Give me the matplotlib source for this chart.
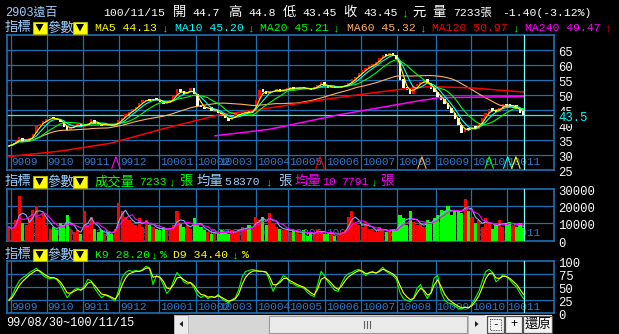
import numpy as np
import pandas as pd
import matplotlib
matplotlib.use("Agg")
import matplotlib.pyplot as plt
import matplotlib.transforms as mtransforms
from matplotlib.patches import Rectangle, Polygon

plt.rcParams['font.family'] = ['Liberation Mono', 'DejaVu Sans Mono', 'Noto Sans CJK TC']

W, H = 619, 334
GRID = '#1f6fb5'
DATEC = '#2f7ad0'
LBLUE = '#a0d0ff'

# ---- data (2-trading-day bins, 99/08/30 .. 100/11/15) ----
months = ['9909', '9910', '9911', '9912', '10001', '10002', '10003', '10004',
          '10005', '10006', '10007', '10008', '10009', '10010', '10011']
month_pos = [0.52, 11.0, 21.5, 32.2, 43.8, 54.5, 61.0, 72.0,
             81.5, 92.2, 102.6, 113.1, 124.4, 134.7, 145.1]

closes = [33.0, 33.8, 35.0, 36.0, 34.3, 34.8, 35.8, 37.0, 39.8, 40.5,
          41.2, 42.0, 42.5, 42.2, 41.8, 41.0, 39.5, 38.2, 39.5, 39.8,
          40.2, 39.6, 39.8, 40.8, 42.0, 40.5, 40.2, 39.8, 40.3, 40.0,
          39.8, 40.2, 41.8, 42.5, 43.6, 44.5, 45.2, 46.0, 47.5, 48.2,
          48.5, 48.0, 48.8, 48.5, 47.8, 47.0, 47.6, 48.2, 49.5, 52.0,
          51.0, 50.2, 51.0, 52.2, 50.5, 46.5, 46.0, 45.5, 45.8, 44.6,
          44.8, 44.0, 43.0, 42.2, 41.5, 42.8, 43.5, 43.6, 44.2, 44.5,
          44.0, 44.6, 48.5, 51.8, 51.0, 50.5, 51.2, 51.5, 52.0, 51.0,
          51.8, 52.2, 52.6, 52.0, 52.4, 52.5, 52.2, 52.0, 51.8, 52.6,
          53.5, 54.2, 53.0, 52.4, 52.8, 52.5, 52.6, 53.0, 53.2, 54.0,
          55.2, 56.0, 57.2, 58.2, 59.0, 59.6, 60.2, 61.0, 62.5, 63.5,
          63.0, 64.0, 63.0, 62.0, 55.0, 52.5, 51.8, 50.2, 53.0, 53.8,
          54.2, 55.0, 54.0, 52.0, 51.0, 49.5, 48.5, 47.0, 45.5, 44.0,
          42.0, 40.0, 37.5, 38.8, 38.5, 39.5, 38.8, 40.5, 42.5, 44.0,
          45.5, 44.8, 44.5, 45.8, 47.0, 46.8, 46.0, 46.5, 45.2, 44.0,
          43.45]

opens = [32.6, 33.1, 33.9, 35.2, 35.8, 34.2, 34.9, 35.9, 37.2, 39.6,
         40.3, 41.0, 42.2, 42.6, 42.3, 41.8, 40.8, 39.6, 38.4, 39.4,
         39.8, 40.3, 39.5, 39.9, 40.7, 41.8, 40.6, 40.3, 39.8, 40.4,
         40.1, 39.7, 40.3, 41.6, 42.6, 43.5, 44.4, 45.3, 45.9, 47.4,
         48.0, 48.6, 48.0, 48.9, 48.4, 47.9, 47.0, 47.5, 48.2, 49.6,
         52.1, 51.2, 50.3, 51.0, 52.3, 50.2, 46.6, 46.0, 45.4, 45.9,
         44.5, 44.9, 44.0, 43.1, 42.3, 41.6, 42.7, 43.4, 43.6, 44.1,
         44.6, 44.0, 44.8, 48.6, 51.9, 51.2, 50.4, 51.0, 51.4, 52.1,
         51.0, 51.7, 52.1, 52.7, 52.0, 52.3, 52.6, 52.3, 52.1, 51.7,
         52.5, 53.4, 54.3, 53.1, 52.3, 52.9, 52.4, 52.5, 53.0, 53.1,
         53.9, 55.1, 55.9, 57.1, 58.1, 59.1, 59.5, 60.1, 60.9, 62.4,
         63.6, 62.9, 64.1, 63.2, 61.5, 55.2, 52.6, 51.9, 50.4, 52.9,
         53.7, 54.1, 55.2, 54.1, 52.2, 51.1, 49.6, 48.6, 47.2, 45.6,
         44.1, 42.2, 40.1, 37.6, 38.9, 38.4, 39.6, 38.7, 40.4, 42.4,
         43.9, 45.6, 44.9, 44.4, 45.7, 47.1, 46.9, 45.9, 46.6, 45.3,
         44.7]

volume_k = [8, 6, 12, 26, 10, 9, 13, 18, 20, 14,
            16, 9, 7, 8, 6, 10, 9, 15, 7, 5,
            6, 4, 17, 9, 14, 7, 5, 6, 4, 5,
            4, 7, 22, 17, 14, 12, 10, 9, 13, 8,
            12, 9, 8, 7, 6, 8, 6, 7, 9, 17,
            10, 8, 9, 7, 13, 9, 8, 6, 5, 4,
            5, 4, 6, 5, 4, 6, 5, 7, 8, 6,
            9, 7, 14, 12, 14, 9, 16, 10, 8, 7,
            6, 7, 5, 6, 5, 4, 6, 3, 5, 4,
            7, 5, 4, 4, 5, 3, 4, 5, 6, 14,
            17, 10, 9, 8, 11, 7, 6, 5, 8, 6,
            5, 6, 7, 6, 15, 13, 9, 17, 11, 9,
            10, 8, 12, 11, 13, 15, 18, 17, 20, 15,
            18, 17, 16, 24, 17, 14, 10, 12, 8, 13,
            10, 7, 9, 12, 8, 10, 11, 9, 8, 10,
            7.2]

k9 = [25, 35, 50, 62, 68, 72, 78, 82, 86, 80,
      72, 68, 66, 68, 64, 55, 42, 30, 38, 45,
      48, 44, 52, 65, 62, 48, 38, 30, 35, 32,
      28, 24, 45, 68, 78, 82, 80, 82, 80, 84,
      90, 86, 55, 72, 68, 55, 38, 45, 62, 78,
      70, 60, 56, 58, 48, 35, 30, 34, 28, 32,
      30, 36, 28, 24, 20, 26, 30, 45, 70, 80,
      82, 84, 82, 80, 80, 78, 62, 42, 55, 62,
      72, 68, 58, 56, 52, 50, 48, 40, 35, 32,
      55, 80, 72, 60, 52, 44, 42, 58, 70, 76,
      78, 82, 84, 80, 72, 78, 80, 76, 82, 88,
      80, 76, 72, 64, 40, 28, 25, 22, 30, 48,
      55, 40, 28, 40, 68, 72, 40, 25, 20, 18,
      14, 10, 8, 12, 10, 18, 30, 42, 62, 80,
      84, 78, 60, 66, 74, 70, 64, 56, 50, 38,
      28]

ma120_pos = [0, 15, 29.5, 45.5, 61, 76.7, 90.7, 105.3, 114.9, 122.8, 134.4, 150]
ma120_val = [29.5, 31.3, 33.9, 38.9, 43.3, 45.8, 48.3, 50.6, 52.0, 52.8, 52.4, 51.0]
ma240_pos = [60.1, 76.1, 95.7, 120.7, 122.8, 125.0, 150]
ma240_val = [36.4, 38.6, 43.3, 48.3, 48.6, 49.1, 49.47]

signal_pos = [31.2, 90.7, 120.4, 140.0, 145.4, 147.8]
signal_col = ['#ff00ff', '#ff0000', '#ffb060', '#00ff00', '#00ffff', '#ffff00']

last_price = 43.45
cursor = 150.2

# ---- derived series ----
c = pd.Series(closes)
ma5 = c.rolling(3, min_periods=1).mean()
ma10 = c.rolling(5, min_periods=1).mean()
ma20 = c.rolling(10, min_periods=1).mean()
ma60 = c.rolling(30, min_periods=1).mean()
vol = pd.Series(volume_k) * 1000
vma5 = vol.rolling(3, min_periods=1).mean()
vma10 = vol.rolling(5, min_periods=1).mean()
d9 = [k9[0]]
for kv in k9[1:]:
    d9.append(0.45 * d9[-1] + 0.55 * kv)

x = np.arange(len(closes))
XL = (-0.64, 158.9)
LW = 0.8
FS = 8.2      # ascii text in headers
FC = 9.6      # cjk text

fig = plt.figure(figsize=(W / 100, H / 100), dpi=100, facecolor='black')


def rect(px0, py0, px1, py1):
    return [px0 / W, 1 - py1 / H, (px1 - px0) / W, (py1 - py0) / H]


def panel(r, ylim, hlines, labels, date_y):
    a = fig.add_axes(rect(*r))
    a.set_facecolor('black')
    a.set_xlim(*XL)
    a.set_ylim(*ylim)
    a.set_xticks([])
    a.set_yticks([])
    for s in a.spines.values():
        s.set_color(GRID)
        s.set_linewidth(1.2)
    for v in hlines:
        a.axhline(v, color=GRID, lw=0.9, zorder=1)
    for p in month_pos:
        a.axvline(p, color=GRID, lw=0.9, zorder=1)
    for p, m in zip(month_pos, months):
        a.text(p + 0.25, date_y, m, color=DATEC, fontsize=8.0, va='center',
               ha='left', zorder=1.5, clip_on=True)
    off = mtransforms.ScaledTranslation(0.045, -0.03, fig.dpi_scale_trans)
    tr = a.get_yaxis_transform() + off
    for v, s in labels:
        a.text(1.0, v, s, color='white', fontsize=8.8, va='center', ha='left',
               transform=tr, clip_on=False)
    a.axvline(cursor, color='#80ffff', lw=0.9, zorder=6)
    return a


# main price panel
ax = panel((6.7, 35, 554, 170), (25, 70), [30, 35, 40, 45, 50, 55, 60, 65],
           [(v, str(v)) for v in [65, 60, 55, 50, 45, 40, 35, 30, 25]], 27.7)
ax.axhline(last_price, color='#00ffff', lw=0.9, zorder=2)
up = np.array(closes) >= np.array(opens)
bot = np.minimum(closes, opens)
hgt = np.maximum(np.abs(np.array(closes) - np.array(opens)), 0.25)
ax.bar(x, hgt, bottom=bot, width=0.72, color=np.where(up, '#ff0000', '#ffffff'),
       zorder=3, linewidth=0)
ax.plot(x, ma60, color='#ffb060', lw=LW, zorder=4)
ax.plot(ma120_pos, ma120_val, color='#ff0000', lw=1.1, zorder=4)
ax.plot(ma240_pos, ma240_val, color='#ff00ff', lw=1.1, zorder=4)
ax.plot(x, ma20, color='#00ff00', lw=LW, zorder=4)
ax.plot(x, ma10, color='#00ffff', lw=LW, zorder=4)
ax.plot(x, ma5, color='#ffff00', lw=LW, zorder=4)
for p, col in zip(signal_pos, signal_col):
    ax.plot([p - 1.2, p, p + 1.2], [25.6, 29.4, 25.6], color=col, lw=LW, zorder=5)
off = mtransforms.ScaledTranslation(0.045, -0.03, fig.dpi_scale_trans)
ax.text(1.0, last_price, '43.5', color='#00ffff', fontsize=8.8, va='center', ha='left',
        transform=ax.get_yaxis_transform() + off, clip_on=False,
        bbox=dict(facecolor='black', edgecolor='none', pad=0.5))

# volume panel
axv = panel((6.7, 189, 554, 240.7), (0, 30000), [10000, 20000],
            [(30000, '30000'), (20000, '20000'), (10000, '10000'), (0, '0')], 4500)
prev = np.r_[closes[0] - 1, closes[:-1]]
vcol = np.where(np.array(closes) > prev, '#ff0000',
                np.where(np.array(closes) < prev, '#00ff00', '#ffffff'))
axv.bar(x, vol, width=0.9, color=vcol, zorder=3, linewidth=0)
axv.plot(x, vma5, color='#70b8f0', lw=LW, zorder=4)
axv.plot(x, vma10, color='#ff00ff', lw=LW, zorder=4)

# KD panel
axk = panel((6.7, 261, 554, 313.3), (0, 100), [25, 50, 75],
            [(100, '100'), (75, '75'), (50, '50'), (25, '25'), (0, '0')], 12.6)
axk.plot(x, k9, color='#00ff00', lw=LW, zorder=4)
axk.plot(x, d9, color='#ffff00', lw=LW, zorder=4)

# ---- header texts / widgets in pixel coordinates ----
ov = fig.add_axes([0, 0, 1, 1])
ov.set_xlim(0, W)
ov.set_ylim(H, 0)
ov.axis('off')
ov.patch.set_alpha(0)


def t(px, py, s, col, size=FS):
    ov.text(px, py, s, color=col, fontsize=size, va='center', ha='left')


def tri_box(px, py):
    ov.add_patch(Rectangle((px, py), 14, 12, facecolor='#ffff00', edgecolor='#b0b000', lw=0.8))
    ov.add_patch(Polygon([(px + 3, py + 2.5), (px + 11, py + 2.5), (px + 7, py + 10)],
                         closed=True, facecolor='black', edgecolor='none'))


def menu(py):
    t(5, py, '指標', LBLUE, FC)
    tri_box(32.5, py - 6.5)
    t(47, py, '參數', LBLUE, FC)
    tri_box(73, py - 6.5)


# row 1
t(5, 13, '2903遠百', LBLUE, 8.6)
for px, s in [(103, '100/11/15'), (173, '開'), (192, '44.7'), (228, '高'), (248, '44.8'),
              (283, '低'), (302, '43.45'), (343, '收'), (363, '43.45'), (412, '元'),
              (432, '量'), (453, '7233張'), (502, '-1.40(-3.12%)')]:
    t(px, 13, s, 'white', FC if len(s) == 1 else FS)
t(402, 13, '↓', '#00ff00')

# row 2
menu(28)
for px, s, col in [(95, 'MA5 44.13', '#ffff00'), (175, 'MA10 45.20', '#00ffff'),
                   (260, 'MA20 45.21', '#00ff00'), (347, 'MA60 45.32', '#ffb060'),
                   (432, 'MA120 50.97', '#ff0000'), (525, 'MA240 49.47', '#ff00ff')]:
    t(px, 28, s, col)
for px in [162, 248, 333, 420, 513]:
    t(px, 28, '↓', '#00ff00')
t(605, 28, '↑', '#ff0000')

# volume header
menu(182)
t(95, 182, '成交量', '#00ff00', FC)
t(139, 182, '7233', '#00ff00')
t(169, 182, '↓', '#00ff00')
t(179, 182, '張', '#00ff00', FC)
t(197, 182, '均量', LBLUE, FC)
t(224, 182, '5', LBLUE)
t(232, 182, '8370', LBLUE)
t(266, 182, '↓', '#00ff00')
t(278, 182, '張', LBLUE, FC)
t(295, 182, '均量', '#ff00ff', FC)
t(322, 182, '10', '#ff00ff')
t(341, 182, '7791', '#ff00ff')
t(371, 182, '↓', '#00ff00')
t(380, 182, '張', '#ff00ff', FC)

# KD header
menu(255)
t(95, 255, 'K9 28.20', '#00ff00')
t(151, 255, '↓', '#00ff00')
t(160, 255, '%', '#00ff00')
t(173, 255, 'D9 34.40', '#ffff00')
t(232, 255, '↓', '#00ff00')
t(242, 255, '%', '#ffff00')

# bottom row
t(6, 323, '99/08/30~100/11/15', 'white', 8.6)
ov.add_patch(Rectangle((174, 315), 311, 19, facecolor='#d6d6d6', edgecolor='none'))
ov.add_patch(Rectangle((174, 315), 14, 19, facecolor='#ececec', edgecolor='#b0b0b0', lw=0.6))
ov.add_patch(Polygon([(183, 321), (183, 327), (179.5, 324)], facecolor='#202020'))
ov.add_patch(Rectangle((269, 316), 198, 17, facecolor='#ebebeb', edgecolor='#9a9a9a', lw=0.8))
for gx in [364, 367, 370]:
    ov.plot([gx, gx], [320.5, 327.5], color='#606060', lw=0.8)
ov.add_patch(Rectangle((468, 315), 17, 19, facecolor='#ececec', edgecolor='#b0b0b0', lw=0.6))
ov.add_patch(Polygon([(475, 321), (475, 327), (478.5, 324)], facecolor='#202020'))
ov.add_patch(Rectangle((485, 315), 67, 19, facecolor='#f0f0f0', edgecolor='none'))
for bx0, bw in [(487, 17), (505, 17), (523, 29)]:
    ov.add_patch(Rectangle((bx0, 316), bw, 17, facecolor='#f4f4f4', edgecolor='#505050', lw=0.9))
ov.add_patch(Rectangle((490, 319), 11, 11, facecolor='none', edgecolor='#202020', lw=0.6,
                       linestyle=(0, (1, 1))))
ov.text(495.5, 324, '-', color='black', fontsize=8, ha='center', va='center')
ov.text(513.5, 324, '+', color='black', fontsize=8.6, ha='center', va='center')
ov.text(537.5, 324, '還原', color='black', fontsize=FC, ha='center', va='center')

fig.savefig('out.png', dpi=100, facecolor='black')
